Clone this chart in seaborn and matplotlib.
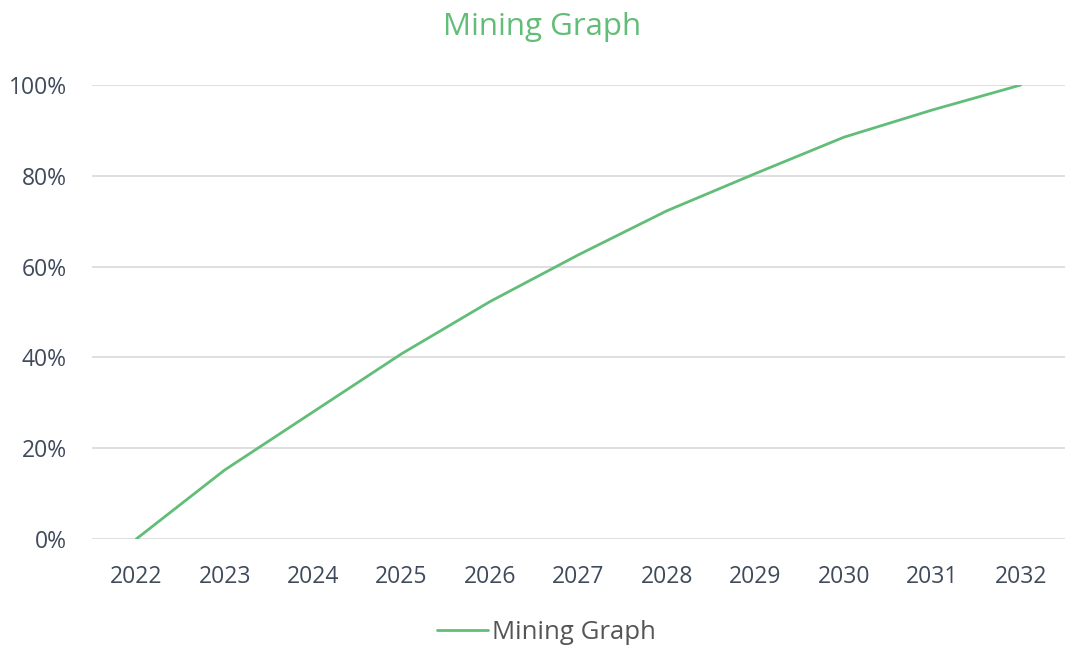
import matplotlib
matplotlib.use("Agg")
import matplotlib.pyplot as plt
import seaborn as sns
import pandas as pd
from matplotlib.ticker import PercentFormatter

years = ["2022", "2023", "2024", "2025", "2026", "2027", "2028", "2029", "2030", "2031", "2032"]
values = [0.0, 15.2, 28.0, 40.8, 52.3, 62.6, 72.3, 80.5, 88.5, 94.5, 100.0]
series_name = "Mining Graph"

df = pd.DataFrame({"year": years, "value": values, "series": series_name})

sns.set_theme(style="white")
plt.rcParams["font.family"] = ["Open Sans", "DejaVu Sans"]

GREEN = "#62bd78"
fig = plt.figure(figsize=(10.67, 6.51), dpi=100)
ax = fig.add_axes([92 / 1067, (651 - 539) / 651, 973 / 1067, 454 / 651])

sns.lineplot(data=df, x="year", y="value", hue="series", palette=[GREEN],
             linewidth=2, ax=ax, sort=False)

ax.set_xlim(-0.5, len(years) - 0.5)
ax.set_ylim(0, 100)
ax.set_yticks([0, 20, 40, 60, 80, 100])
ax.yaxis.set_major_formatter(PercentFormatter(100, decimals=0))
ax.grid(axis="y", color="#d9d9d9", linewidth=1.2)
ax.grid(axis="x", visible=False)
for s in ax.spines.values():
    s.set_visible(False)
ax.tick_params(axis="both", length=0, labelsize=16.5, colors="#3f4a5a")
ax.tick_params(axis="y", pad=18)
ax.tick_params(axis="x", pad=19)
ax.set_xlabel("")
ax.set_ylabel("")

fig.text(542 / 1067, 1 - 27 / 651, "Mining Graph", ha="center", va="center",
         fontsize=22.5, color=GREEN)

leg = ax.legend(loc="center", bbox_to_anchor=(0.467, -0.206), frameon=False,
                fontsize=18.5, handlelength=2.0, handletextpad=0.15)
for t in leg.get_texts():
    t.set_color("#555555")
for l in leg.get_lines():
    l.set_linewidth(2)

fig.savefig("out.png", dpi=100)
